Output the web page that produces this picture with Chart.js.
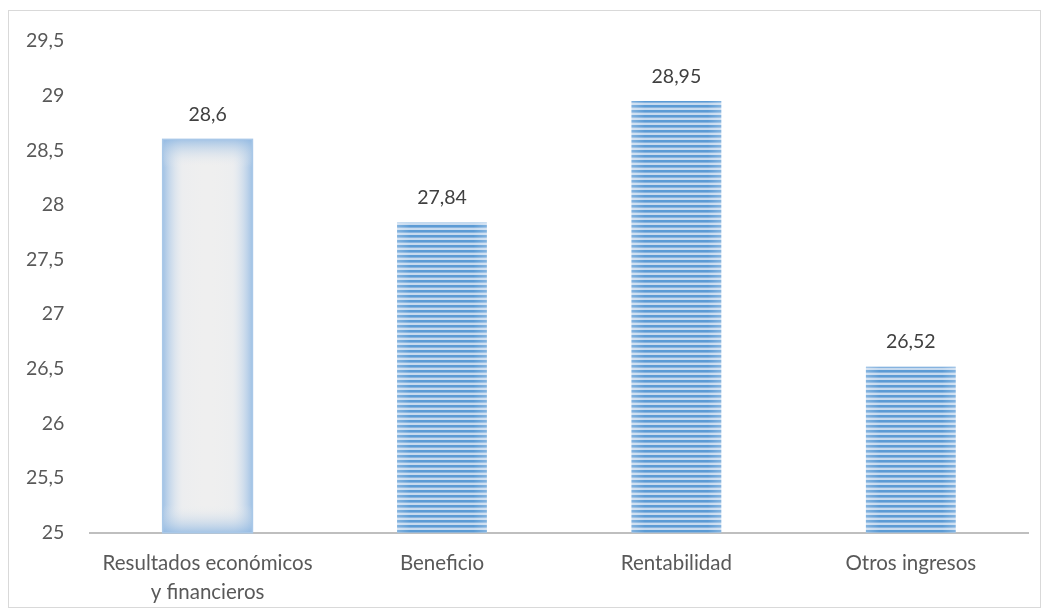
<!DOCTYPE html>
<html>
<head>
<meta charset="utf-8">
<script src="https://cdn.jsdelivr.net/npm/chart.js@4/dist/chart.umd.min.js"></script>
<style>
  html, body { margin: 0; padding: 0; background: #fff; }
  #frame { position: absolute; left: 8px; top: 10px; width: 1031px; height: 596px; border: 1px solid #d9d9d9; }
  #wrap { position: absolute; left: 0; top: 0; width: 1048px; height: 616px; }
</style>
</head>
<body>
<div id="frame"></div>
<div id="wrap"><canvas id="bars"></canvas></div>
<script>
// categories and values
const categories = [['Resultados económicos', 'y financieros'], 'Beneficio', 'Rentabilidad', 'Otros ingresos'];
const values = [28.6, 27.84, 28.95, 26.52];
const yMin = 25, yMax = 29.5, yStep = 0.5;

const fmt = v => String(v).replace('.', ',');
const FONT = 'Lato, "Liberation Sans", sans-serif';

// horizontal stripe fill for the blue bars
function stripePattern() {
  const c = document.createElement('canvas');
  c.width = 4; c.height = 5;
  const g = c.getContext('2d');
  g.fillStyle = '#c6daef'; g.fillRect(0, 0, 4, 5);
  g.fillStyle = '#5b9bd5'; g.fillRect(0, 0, 4, 2);
  g.fillStyle = '#86b3df'; g.fillRect(0, 2, 4, 1);
  return c;
}
const ctx = document.getElementById('bars').getContext('2d');
const stripes = ctx.createPattern(stripePattern(), 'repeat');

// first bar gets a pale centre fading to blue at the edges; all bars get their value on top
const softBar = {
  id: 'softBar',
  afterDatasetsDraw(chart) {
    const c = chart.ctx;
    chart.getDatasetMeta(0).data.forEach((bar, i) => {
      const left = bar.x - bar.width / 2, right = bar.x + bar.width / 2;
      const top = bar.y, bottom = Math.min(bar.base, chart.chartArea.bottom);
      const h = bottom - top;
      c.save();
      if (i === 0) {
        c.fillStyle = '#efefef';
        c.fillRect(left, top, bar.width, h);
        const gx = c.createLinearGradient(left, 0, right, 0);
        gx.addColorStop(0, 'rgba(140,182,226,0.8)');
        gx.addColorStop(0.22, 'rgba(220,230,242,0.15)');
        gx.addColorStop(0.5, 'rgba(239,239,239,0)');
        gx.addColorStop(0.78, 'rgba(220,230,242,0.15)');
        gx.addColorStop(1, 'rgba(140,182,226,0.8)');
        c.fillStyle = gx;
        c.fillRect(left, top, bar.width, h);
        const gt = c.createLinearGradient(0, top, 0, top + 28);
        gt.addColorStop(0, 'rgba(140,182,226,0.75)');
        gt.addColorStop(1, 'rgba(239,239,239,0)');
        c.fillStyle = gt;
        c.fillRect(left, top, bar.width, 28);
        const gb = c.createLinearGradient(0, bottom - 28, 0, bottom);
        gb.addColorStop(0, 'rgba(239,239,239,0)');
        gb.addColorStop(1, 'rgba(140,182,226,0.75)');
        c.fillStyle = gb;
        c.fillRect(left, bottom - 28, bar.width, 28);
        c.strokeStyle = '#a9c8e8';
        c.lineWidth = 1.5;
        c.strokeRect(left, top, bar.width, h);
      } else {
        // soften the striped bars towards the sides
        const gx = c.createLinearGradient(left, 0, right, 0);
        gx.addColorStop(0, 'rgba(255,255,255,0.25)');
        gx.addColorStop(0.15, 'rgba(255,255,255,0)');
        gx.addColorStop(0.85, 'rgba(255,255,255,0)');
        gx.addColorStop(1, 'rgba(255,255,255,0.25)');
        c.fillStyle = gx;
        c.fillRect(left, top, bar.width, h);
      }
      c.fillStyle = '#404040';
      c.font = '19.5px ' + FONT;
      c.textAlign = 'center';
      c.textBaseline = 'bottom';
      c.fillText(fmt(values[i]), bar.x, top - 15);
      c.restore();
    });
  }
};

const myChart = new Chart(ctx, {
  type: 'bar',
  data: {
    labels: categories,
    datasets: [{
      data: values,
      backgroundColor: values.map((v, i) => i === 0 ? 'rgba(0,0,0,0)' : stripes),
      borderWidth: 0,
      barPercentage: 0.383,
      categoryPercentage: 1
    }]
  },
  options: {
    responsive: true,
    maintainAspectRatio: false,
    animation: false,
    layout: { padding: { left: 8, right: 20, top: 41, bottom: 1 } },
    plugins: { legend: { display: false }, tooltip: { enabled: false } },
    scales: {
      x: {
        grid: { display: false },
        border: { color: '#bfbfbf', width: 2 },
        ticks: { color: '#595959', font: { family: FONT, size: 20.5, lineHeight: 1.42 }, padding: 8, maxRotation: 0 }
      },
      y: {
        min: yMin,
        max: yMax,
        grid: { display: false },
        border: { display: false },
        ticks: {
          stepSize: yStep,
          color: '#595959',
          padding: 18,
          font: { family: FONT, size: 19.5 },
          callback: v => fmt(v)
        }
      }
    }
  },
  plugins: [softBar]
});
</script>
</body>
</html>
